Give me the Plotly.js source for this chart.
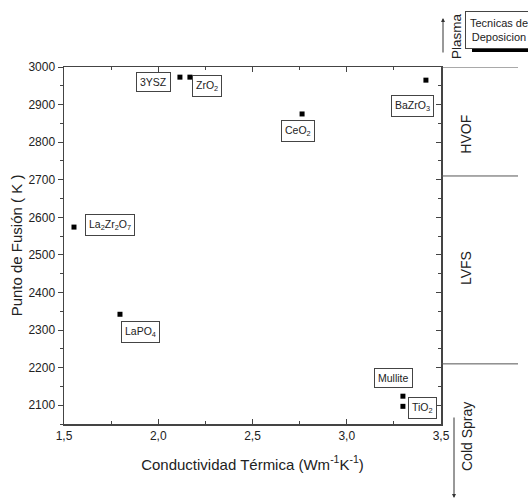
<!DOCTYPE html>
<html><head><meta charset="utf-8">
<script src="https://cdn.plot.ly/plotly-3.0.1.min.js"></script>
<style>html,body{margin:0;padding:0;background:#fff}</style>
</head><body>
<div id="chart" style="width:528px;height:502px"></div>
<script>
// Data
var materials = ["3YSZ", "ZrO<sub>2</sub>", "CeO<sub>2</sub>", "BaZrO<sub>3</sub>", "La<sub>2</sub>Zr<sub>2</sub>O<sub>7</sub>", "LaPO<sub>4</sub>", "Mullite", "TiO<sub>2</sub>"];
var conductivity = [2.115, 2.168, 2.763, 3.42, 1.553, 1.797, 3.298, 3.298];
var meltingPoint = [2973, 2973, 2875, 2965, 2574, 2342, 2124, 2097];
var xTickVals = [1.5, 2.0, 2.5, 3.0, 3.5];
var xTickText = ["1,5", "2,0", "2,5", "3,0", "3,5"];
var yTickVals = [2100, 2200, 2300, 2400, 2500, 2600, 2700, 2800, 2900, 3000];
var yTickText = ["2100", "2200", "2300", "2400", "2500", "2600", "2700", "2800", "2900", "3000"];
var techBounds = [3000, 2710, 2210];
var techNames = ["HVOF", "LVFS"];
var techCenters = [2820, 2465];

// label offsets (pixels) relative to each point
var labelDX = [-26, 17, -4, -13, 36, 21, -9, 20];
var labelDY = [-5, -9, -17, -26, 2, -18, 18, -2];

var font = "Liberation Sans, Arial, sans-serif";
var ink = "#222";

var traces = [{
  type: "scatter", mode: "markers",
  x: conductivity, y: meltingPoint,
  marker: {symbol: "square", size: 5, color: "#000"},
  hoverinfo: "skip", showlegend: false
}, {
  type: "scatter", mode: "markers", x: [], y: [], yaxis: "y2", showlegend: false
}];

var annotations = materials.map(function (m, i) {
  return {
    x: conductivity[i], y: meltingPoint[i], xref: "x", yref: "y",
    xanchor: "center", yanchor: "middle",
    text: m, showarrow: false, xshift: labelDX[i], yshift: labelDY[i],
    font: {family: font, size: 10.5, color: ink},
    bordercolor: "#444", borderwidth: 1, borderpad: 3, bgcolor: "#fff"
  };
});

var px = function (p) { return (p - 64) / 377; };
var py = function (p) { return (424 - p) / 357; };

techNames.forEach(function (t, i) {
  annotations.push({
    x: px(466), xref: "paper", y: techCenters[i], yref: "y",
    xanchor: "center", yanchor: "middle",
    text: t, textangle: -90, showarrow: false,
    font: {family: font, size: 14, color: ink}
  });
});
annotations.push({x: px(456), y: py(36), xref: "paper", yref: "paper", text: "Plasma",
  xanchor: "center", yanchor: "middle",
  textangle: -90, showarrow: false, font: {family: font, size: 13.5, color: ink}});
annotations.push({x: px(467), y: py(436), xref: "paper", yref: "paper", text: "Cold Spray",
  xanchor: "center", yanchor: "middle",
  textangle: -90, showarrow: false, font: {family: font, size: 14, color: ink}});
// arrows
annotations.push({x: px(443), y: py(18), xref: "paper", yref: "paper", text: "",
  showarrow: true, ax: 0, ay: 36, arrowhead: 2, arrowsize: 0.8, arrowwidth: 1, arrowcolor: "#333"});
annotations.push({x: px(454), y: py(498), xref: "paper", yref: "paper", text: "",
  showarrow: true, ax: 0, ay: -82, arrowhead: 2, arrowsize: 0.8, arrowwidth: 1, arrowcolor: "#333"});
// legend-like box
annotations.push({x: px(499), y: py(30.5), xref: "paper", yref: "paper",
  xanchor: "center", yanchor: "middle",
  text: "Tecnicas de<br>Deposicion", showarrow: false,
  font: {family: font, size: 11, color: ink}, bordercolor: "#444", borderwidth: 1,
  borderpad: 3, bgcolor: "#fff", width: 60, height: 30});

var shapes = techBounds.map(function (b) {
  return {type: "line", xref: "paper", yref: "y", x0: 1, x1: px(518), y0: b, y1: b,
    line: {color: "#555", width: 1}};
});
shapes.push({type: "rect", xref: "paper", yref: "paper", x0: px(472), x1: px(530),
  y0: py(52), y1: py(48), fillcolor: "#000", line: {width: 0}});

var layout = {
  width: 528, height: 502,
  margin: {l: 64, r: 87, t: 67, b: 78},
  paper_bgcolor: "#fff", plot_bgcolor: "#fff",
  font: {family: font, color: ink, size: 12},
  showlegend: false,
  xaxis: {
    range: [1.5, 3.5], tickvals: xTickVals, ticktext: xTickText,
    ticks: "inside", ticklen: 5, tickcolor: "#444", mirror: "ticks",
    showline: true, linecolor: "#444", linewidth: 1.5, showgrid: false, zeroline: false,
    minor: {ticks: "inside", ticklen: 3, dtick: 0.25, tick0: 1.5, tickcolor: "#444"},
    tickfont: {family: font, size: 12, color: ink},
    title: {text: "Conductividad Térmica (Wm<sup>-1</sup>K<sup>-1</sup>)", standoff: 17,
      font: {family: font, size: 15, color: ink}}
  },
  yaxis: {
    range: [2050, 3000], tickvals: yTickVals, ticktext: yTickText,
    ticks: "outside", ticklen: 5, tickcolor: "#444",
    showline: true, linecolor: "#444", linewidth: 1.5, showgrid: false, zeroline: false,
    minor: {ticks: "outside", ticklen: 3, dtick: 50, tick0: 2050, tickcolor: "#444"},
    tickfont: {family: font, size: 12, color: ink},
    title: {text: "Punto de Fusión ( K )", standoff: 2, font: {family: font, size: 15, color: ink}}
  },
  yaxis2: {
    overlaying: "y", side: "right", range: [2050, 3000], tickvals: yTickVals,
    showticklabels: false, ticks: "inside", ticklen: 5, tickcolor: "#444",
    showline: true, linecolor: "#444", linewidth: 1.5, showgrid: false, zeroline: false,
    minor: {ticks: "inside", ticklen: 3, dtick: 50, tick0: 2050, tickcolor: "#444"}
  },
  annotations: annotations,
  shapes: shapes
};

Plotly.newPlot("chart", traces, layout, {staticPlot: true});
</script>
</body></html>
